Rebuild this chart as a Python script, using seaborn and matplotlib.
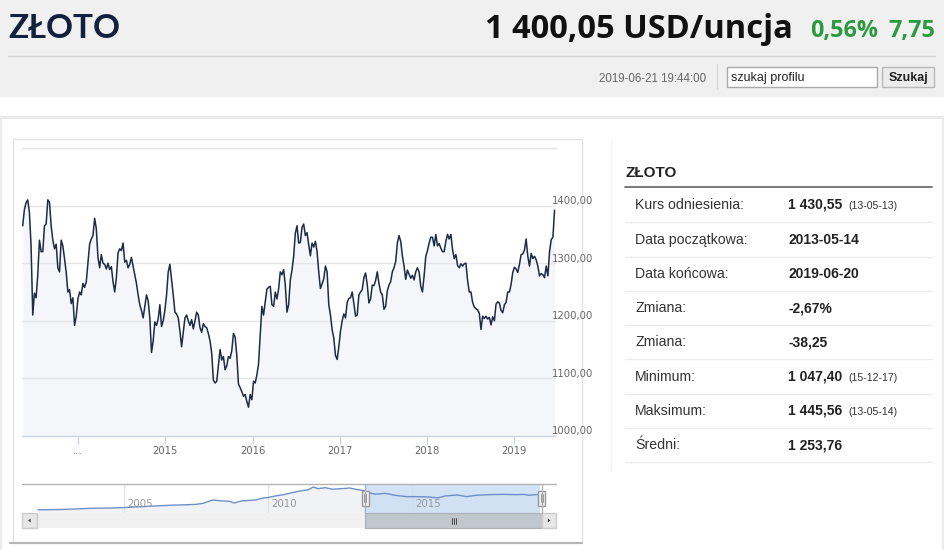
import matplotlib
matplotlib.use("Agg")
import matplotlib.pyplot as plt
import seaborn as sns
import pandas as pd
from matplotlib.patches import Rectangle, Polygon
from matplotlib.transforms import ScaledTranslation

# weekly closes, starting 2013-05-14
VAL_2013 = [1365, 1393, 1405, 1410, 1388, 1330, 1210, 1248, 1240, 1280, 1340, 1320,
            1320, 1365, 1368, 1410, 1406, 1365, 1340, 1325, 1333, 1292, 1285, 1340,
            1330, 1308, 1284, 1250, 1254, 1230, 1240, 1192, 1208, 1238]
VAL_2014 = [1250, 1245, 1265, 1258, 1268, 1300, 1333, 1342, 1348, 1378, 1360, 1310,
            1292, 1315, 1300, 1298, 1290, 1300, 1289, 1294, 1268, 1250, 1275, 1318,
            1325, 1322, 1335, 1302, 1305, 1292, 1298, 1310, 1295, 1280, 1265, 1245,
            1228, 1218, 1205, 1225, 1245, 1235, 1205, 1145, 1165, 1198, 1192, 1203,
            1228, 1190, 1200, 1218]
VAL_2015 = [1245, 1285, 1298, 1272, 1245, 1215, 1212, 1205, 1182, 1155, 1180, 1205,
            1210, 1200, 1192, 1202, 1186, 1200, 1215, 1210, 1188, 1180, 1195, 1190,
            1188, 1178, 1165, 1144, 1097, 1092, 1095, 1123, 1150, 1132, 1138, 1115,
            1122, 1138, 1135, 1148, 1178, 1172, 1140, 1090, 1084, 1077, 1069, 1072,
            1060, 1050, 1072, 1063]
VAL_2016 = [1095, 1092, 1106, 1125, 1175, 1225, 1210, 1232, 1255, 1258, 1260, 1228,
            1225, 1250, 1238, 1255, 1285, 1280, 1289, 1262, 1215, 1228, 1271, 1288,
            1312, 1352, 1365, 1335, 1336, 1362, 1368, 1348, 1353, 1332, 1313, 1335,
            1328, 1338, 1320, 1285, 1256, 1264, 1273, 1295, 1285, 1228, 1210, 1185,
            1170, 1140, 1133, 1155]
VAL_2017 = [1182, 1200, 1212, 1205, 1232, 1239, 1240, 1250, 1230, 1208, 1210, 1245,
            1250, 1254, 1275, 1283, 1263, 1231, 1238, 1262, 1261, 1270, 1285, 1265,
            1250, 1245, 1220, 1225, 1252, 1262, 1268, 1285, 1292, 1303, 1335, 1348,
            1338, 1313, 1295, 1272, 1288, 1281, 1274, 1279, 1271, 1285, 1292, 1285,
            1260, 1250, 1278, 1312]
VAL_2018 = [1322, 1335, 1345, 1345, 1330, 1350, 1330, 1334, 1326, 1320, 1320, 1338,
            1350, 1342, 1350, 1324, 1308, 1315, 1296, 1292, 1299, 1295, 1299, 1300,
            1270, 1250, 1250, 1232, 1224, 1221, 1219, 1213, 1185, 1208, 1204, 1208,
            1203, 1206, 1193, 1207, 1200, 1229, 1233, 1231, 1218, 1214, 1228, 1232,
            1250, 1250, 1263, 1284]
VAL_2019 = [1293, 1290, 1284, 1298, 1315, 1316, 1323, 1342, 1312, 1295, 1317, 1308,
            1312, 1306, 1295, 1278, 1282, 1280, 1275, 1295, 1278, 1320, 1341, 1345, 1392]

# navigator (full history, coarse)
NAV_MONTHS = ["2002-01", "2002-10", "2003-05", "2003-11", "2004-07", "2005-01", "2005-06",
              "2005-11", "2006-08", "2007-02", "2007-07", "2007-10", "2008-02", "2008-05",
              "2008-09", "2008-11", "2009-02", "2009-08", "2009-11", "2010-01", "2010-04",
              "2010-08", "2010-11", "2011-02", "2011-06", "2011-08", "2011-10", "2012-01",
              "2012-04", "2012-08", "2012-11", "2013-02", "2013-05", "2013-07", "2013-10",
              "2014-02", "2014-06", "2014-11", "2015-03", "2015-08", "2015-12", "2016-03",
              "2016-08", "2016-12", "2017-04", "2017-09", "2018-03", "2018-09", "2018-12",
              "2019-02", "2019-06"]
NAV_VALUES = [290, 310, 345, 390, 410, 440, 480, 520, 590, 620, 650, 720, 940, 890, 850,
              740, 880, 940, 1070, 1100, 1200, 1300, 1420, 1520, 1620, 1790, 1690, 1750,
              1650, 1690, 1730, 1640, 1560, 1420, 1320, 1380, 1250, 1160, 1160, 1140, 1080,
              1200, 1270, 1160, 1250, 1290, 1310, 1290, 1310, 1250, 1310]

Y_TICKS = [1000, 1100, 1200, 1300, 1400, 1500]
Y_LABELS = ["1000,00", "1100,00", "1200,00", "1300,00", "1400,00", ""]
X_TICKS = ["2014-01-01", "2015-01-01", "2016-01-01", "2017-01-01", "2018-01-01", "2019-01-01"]
X_LABELS = ["...", "2015", "2016", "2017", "2018", "2019"]

ROW_LABELS = ["Kurs odniesienia:", "Data początkowa:", "Data końcowa:", "Zmiana:",
              "Zmiana:", "Minimum:", "Maksimum:", "Średni:"]
ROW_VALUES = ["1 430,55", "2013-05-14", "2019-06-20", "-2,67%", "-38,25",
              "1 047,40", "1 445,56", "1 253,76"]
ROW_NOTES = ["(13-05-13)", "", "", "", "", "(15-12-17)", "(13-05-14)", ""]

sns.set_theme(style="white")
plt.rcParams["font.family"] = ["DejaVu Sans"]

W, H = 945, 550
fig = plt.figure(figsize=(9.45, 5.5), dpi=100)


def frac(x0, y0, x1, y1):
    return [x0 / W, 1 - y1 / H, (x1 - x0) / W, (y1 - y0) / H]


def box(ax, x0, y0, x1, y1, **kw):
    ax.add_patch(Rectangle((x0, y0), x1 - x0, y1 - y0, **kw))


# page background, header, table
bg = fig.add_axes([0, 0, 1, 1], zorder=0)
bg.set_xlim(0, W)
bg.set_ylim(H, 0)
bg.axis("off")

box(bg, 0, 0, W, 97, color="#f0f0f0", lw=0)
bg.plot([8, 935], [55.5, 55.5], color="#d4d4d4", lw=1)
bg.text(8, 38.3, "ZŁOTO", fontsize=24, fontweight="bold", color="#13213f",
        family="Lato", va="baseline", ha="left")
bg.text(793, 38.3, "1 400,05 USD/uncja", fontsize=23.5, fontweight="bold", color="#111111",
        family="Open Sans", va="baseline", ha="right")
bg.text(810, 37.5, "0,56%", fontsize=16.8, fontweight="bold", color="#2a9a3e",
        family="Open Sans", va="baseline", ha="left")
bg.text(935, 37.5, "7,75", fontsize=16.8, fontweight="bold", color="#2a9a3e",
        family="Open Sans", va="baseline", ha="right")

bg.text(705.7, 81.5, "2019-06-21 19:44:00", fontsize=8.3, color="#666666",
        family="Liberation Sans", va="baseline", ha="right")
bg.plot([716.5, 716.5], [64, 88.5], color="#d8d8d8", lw=1)
box(bg, 727.3, 66.7, 877.3, 86.7, facecolor="white", edgecolor="#a9a9a9", lw=1)
bg.text(731, 80.5, "szukaj profilu", fontsize=9, color="#222222",
        family="Liberation Sans", va="baseline", ha="left")
box(bg, 882.3, 67.3, 934, 86.7, facecolor="#ececec", edgecolor="#b8b8b8", lw=1)
bg.text(908.2, 81.5, "Szukaj", fontsize=9, fontweight="bold", color="#222222",
        family="Liberation Sans", va="baseline", ha="center")

# outer panel and chart container
box(bg, 0, 116, W, 119, color="#ebebeb", lw=0)
box(bg, 942, 116, W, H, color="#ebebeb", lw=0)
box(bg, 0, 116, 1.5, H, color="#ebebeb", lw=0)
box(bg, 13, 138.5, 582, 543, facecolor="white", edgecolor="#e3e3e3", lw=1)
bg.plot([10, 582], [543, 543], color="#b5b5b5", lw=1.5)
bg.plot([611, 611], [140, 470], color="#f3f3f3", lw=1)

# statistics table
bg.text(625, 176.7, "ZŁOTO", fontsize=11, fontweight="bold", color="#222222",
        family="Liberation Sans", va="baseline", ha="left")
bg.plot([625, 931.7], [187.3, 187.3], color="#6e6e6e", lw=1.3)
row_y = [204, 239, 273.3, 307.3, 341.7, 376, 410, 444.3]
for i, yc in enumerate(row_y):
    bg.text(635, yc + 4.8, ROW_LABELS[i], fontsize=10.2, color="#333333",
            family="Liberation Sans", va="baseline", ha="left")
    bg.text(788.3, yc + 4.8, ROW_VALUES[i], fontsize=10, fontweight="bold", color="#222222",
            family="Liberation Sans", va="baseline", ha="left")
    if ROW_NOTES[i]:
        bg.text(848.3, yc + 4.8, ROW_NOTES[i], fontsize=7.6, color="#333333",
                family="Liberation Sans", va="baseline", ha="left")
    sep = yc + 17.5
    bg.plot([625, 931.7], [sep, sep], color="#ececec", lw=1)

# main chart
values = VAL_2013 + VAL_2014 + VAL_2015 + VAL_2016 + VAL_2017 + VAL_2018 + VAL_2019
gold = pd.DataFrame({"date": pd.date_range("2013-05-14", periods=len(values), freq="7D"),
                     "price": values})

ax = fig.add_axes(frac(22, 148, 556, 436), zorder=2)
ax.set_facecolor("white")
ax.fill_between(gold["date"], gold["price"], 1000, color="#f4f6f9", lw=0, zorder=1)
sns.lineplot(data=gold, x="date", y="price", ax=ax, color="#1c2b4a", lw=1.1, zorder=3)
ax.set_xlim(pd.Timestamp("2013-05-11"), pd.Timestamp("2019-06-24"))
ax.set_ylim(1000, 1500)
ax.set_yticks(Y_TICKS, Y_LABELS)
ax.yaxis.tick_right()
ax.tick_params(axis="y", length=0, pad=-2.9, labelsize=7.3, labelcolor="#666666")
ax.set_xticks(pd.to_datetime(X_TICKS), X_LABELS)
ax.tick_params(axis="x", bottom=True, length=5.8, width=1, color="#ccd6eb",
               labelsize=7.2, labelcolor="#666666", pad=1.5)
ax.grid(axis="y", color="#e6e6e6", lw=1)
ax.grid(axis="x", visible=False)
ax.set_axisbelow(False)
ax.axhline(1500, color="#dedede", lw=1, clip_on=False)
for s in ["top", "left", "right"]:
    ax.spines[s].set_visible(False)
ax.spines["bottom"].set_color("#ccd6eb")
ax.spines["bottom"].set_linewidth(1)
ax.set_xlabel("")
ax.set_ylabel("")
lift = ScaledTranslation(0, 5.5 / 100, fig.dpi_scale_trans)
for lab in ax.get_yticklabels():
    lab.set_transform(lab.get_transform() + lift)

# navigator
nav_df = pd.DataFrame({"date": pd.to_datetime(NAV_MONTHS), "price": NAV_VALUES})
nav = fig.add_axes(frac(22, 484.3, 556, 512.7), zorder=2)
nav.fill_between(nav_df["date"], nav_df["price"], 100, color="#f0f2f6", lw=0, zorder=1)
for yr in [2005, 2010, 2015]:
    nav.axvline(pd.Timestamp(f"{yr}-01-01"), color="#e4e4e4", lw=1, zorder=1.5)
    nav.text(pd.Timestamp(f"{yr}-02-15"), 0.296, str(yr), transform=nav.get_xaxis_transform(),
             fontsize=7.4, color="#999999", va="center", ha="left", zorder=4)
nav.axvspan(pd.Timestamp("2013-05-14"), pd.Timestamp("2019-06-20"), color="#c9ddf4",
            alpha=0.8, lw=0, zorder=2)
sns.lineplot(data=nav_df, x="date", y="price", ax=nav, color="#6e8fc6", lw=1, zorder=3)
nav.set_xlim(pd.Timestamp("2001-06-13"), pd.Timestamp("2020-01-11"))
nav.set_ylim(100, 1975)
nav.axis("off")

# navigator outline, handles and scrollbar
top = fig.add_axes([0, 0, 1, 1], zorder=5)
top.set_xlim(0, W)
top.set_ylim(H, 0)
top.axis("off")
top.patch.set_alpha(0)

h_left, h_right = 365.3, 541.7
top.plot([22, 556], [484.3, 484.3], color="#b3b3b3", lw=1)
for hx in [h_left, h_right]:
    top.plot([hx, hx], [484.3, 512.7], color="#b3b3b3", lw=1)
    box(top, hx - 3.5, 490.5, hx + 3.5, 505.5, facecolor="#f2f2f2", edgecolor="#999999", lw=1)
    for gx in [hx - 1, hx + 1]:
        top.plot([gx, gx], [494, 502], color="#999999", lw=0.7)

box(top, 36.7, 513, h_right, 528, color="#f0f0f0", lw=0)
box(top, h_left, 513, h_right, 528, facecolor="#c0c7cf", edgecolor="#b0b0b0", lw=0.8)
mid = (h_left + h_right) / 2
for gx in [mid - 2, mid, mid + 2]:
    top.plot([gx, gx], [517.5, 523.5], color="#333333", lw=0.6)
box(top, 22.3, 513, 36.7, 528, facecolor="#e6e6e6", edgecolor="#cccccc", lw=1)
box(top, 541.7, 513, 556, 528, facecolor="#e6e6e6", edgecolor="#cccccc", lw=1)
top.add_patch(Polygon([[28.2, 520.5], [30.6, 518.5], [30.6, 522.5]], color="#333333", lw=0))
top.add_patch(Polygon([[550.3, 520.5], [547.9, 518.5], [547.9, 522.5]], color="#333333", lw=0))

fig.savefig("out.png", dpi=100)
